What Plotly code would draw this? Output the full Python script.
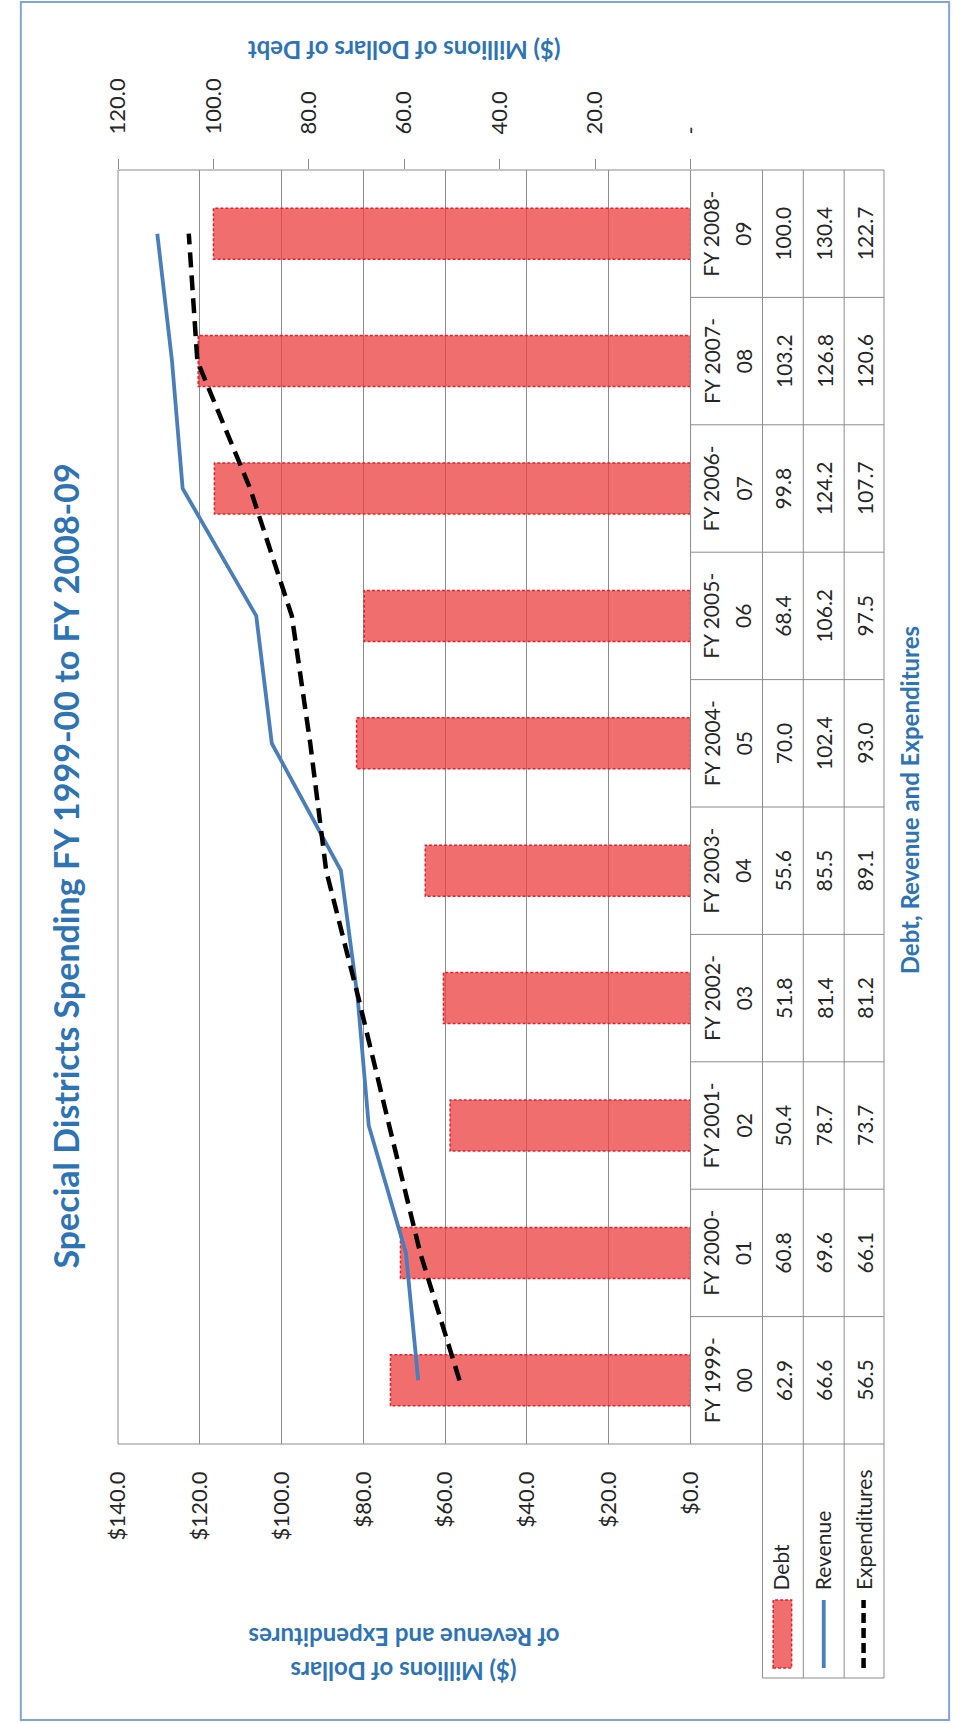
import plotly.graph_objects as go

W, H = 965, 1723

# ---------------- data ----------------
categories = ["FY 1999-00", "FY 2000-01", "FY 2001-02", "FY 2002-03", "FY 2003-04",
              "FY 2004-05", "FY 2005-06", "FY 2006-07", "FY 2007-08", "FY 2008-09"]
debt = [62.9, 60.8, 50.4, 51.8, 55.6, 70.0, 68.4, 99.8, 103.2, 100.0]
revenue = [66.6, 69.6, 78.7, 81.4, 85.5, 102.4, 106.2, 124.2, 126.8, 130.4]
expenditures = [56.5, 66.1, 73.7, 81.2, 89.1, 93.0, 97.5, 107.7, 120.6, 122.7]

dollar_ticks = [0, 20, 40, 60, 80, 100, 120, 140]
dollar_ticktext = ["$0.0", "$20.0", "$40.0", "$60.0", "$80.0", "$100.0", "$120.0", "$140.0"]
debt_ticks = [0, 20, 40, 60, 80, 100, 120]
debt_ticktext = ["-", "20.0", "40.0", "60.0", "80.0", "100.0", "120.0"]

series_names = ["Debt", "Revenue", "Expenditures"]

# ---------------- layout helpers ----------------
def px(x):
    return x / W

def py(y):
    return 1 - y / H

PL, PR, PT, PB = 106, 695, 170, 1444     # plot area (pixels)
C_CAT1, C_CAT2 = 716, 749                # category label lines
C_COLS = [790, 832, 874]                 # table value columns
T_LINES = [769, 811, 853, 894]           # table vertical lines
LEG_BOTTOM = 1678

BLUE = "#2E74B5"
GRID = "#8c8c8c"
TXT = "#262626"
BAR_FILL = "rgba(235,65,65,0.76)"
BAR_EDGE = "#E3202C"
REV_COL = "#4A7EBB"
FONT = "Lato"

idx = list(range(len(categories)))
BAR_HALF = 0.2

fig = go.Figure()

# Debt bars (base axis x = debt axis, on top)
fig.add_trace(go.Bar(
    x=debt, y=idx, orientation="h", width=2 * BAR_HALF,
    marker=dict(color=BAR_FILL, line=dict(width=0)),
    xaxis="x", yaxis="y", hoverinfo="skip"))

# dashed outlines of the bars
ox, oy = [], []
for i, d in zip(idx, debt):
    ox += [0, d, d, 0, 0, None]
    oy += [i - BAR_HALF, i - BAR_HALF, i + BAR_HALF, i + BAR_HALF, i - BAR_HALF, None]
fig.add_trace(go.Scatter(
    x=ox, y=oy, mode="lines",
    line=dict(color=BAR_EDGE, width=1.5, dash="3px,2px"),
    xaxis="x", yaxis="y", hoverinfo="skip"))

# Revenue and Expenditures (overlay $ axis)
fig.add_trace(go.Scatter(
    x=revenue, y=idx, mode="lines",
    line=dict(color=REV_COL, width=3.8),
    xaxis="x2", yaxis="y", hoverinfo="skip"))
fig.add_trace(go.Scatter(
    x=expenditures, y=idx, mode="lines",
    line=dict(color="#000000", width=4.5, dash="15px,8px"),
    xaxis="x2", yaxis="y", hoverinfo="skip"))

tickfont = dict(family=FONT, size=22, color=TXT)

fig.update_layout(
    width=W, height=H, autosize=False,
    margin=dict(l=0, r=0, t=0, b=0),
    paper_bgcolor="white", plot_bgcolor="white",
    showlegend=False,
    xaxis=dict(
        domain=[px(PL), px(PR)], range=[120, 0], side="top", anchor="y",
        tickmode="array", tickvals=debt_ticks, ticktext=debt_ticktext,
        tickangle=-90, ticks="outside", ticklen=10, tickcolor=GRID, tickwidth=1,
        showgrid=False, zeroline=False, showline=False,
        tickfont=tickfont, ticklabelstandoff=20, fixedrange=True),
    xaxis2=dict(
        overlaying="x", range=[140, 0], side="bottom", anchor="y",
        tickmode="array", tickvals=dollar_ticks, ticktext=dollar_ticktext,
        tickangle=-90, ticks="",
        showgrid=True, gridcolor=GRID, gridwidth=1,
        zeroline=False, showline=False,
        tickfont=tickfont, ticklabelstandoff=22, fixedrange=True),
    yaxis=dict(
        domain=[py(PB), py(PT)], range=[-0.5, len(categories) - 0.5],
        showticklabels=False, showgrid=False, zeroline=False, ticks="",
        fixedrange=True),
)

shapes = []
line_style = dict(color=GRID, width=1)

def hline(x0, x1, y):
    shapes.append(dict(type="line", xref="paper", yref="paper",
                       x0=px(x0), x1=px(x1), y0=py(y), y1=py(y), line=line_style))

def vline(x, y0, y1):
    shapes.append(dict(type="line", xref="paper", yref="paper",
                       x0=px(x), x1=px(x), y0=py(y0), y1=py(y1), line=line_style))

# plot/table frame
hline(PL, T_LINES[-1], PT)
hline(PL, T_LINES[-1], PB)
vline(PL, PT, PB)
vline(PR, PT, PB)
for xv in T_LINES:
    vline(xv, PT, LEG_BOTTOM)
hline(T_LINES[0], T_LINES[-1], LEG_BOTTOM)

# row separators between categories in the table
for i in idx[:-1]:
    shapes.append(dict(type="line", xref="paper", yref="y",
                       x0=px(PR), x1=px(T_LINES[-1]), y0=i + 0.5, y1=i + 0.5,
                       line=line_style))

# legend keys
shapes.append(dict(type="rect", xref="paper", yref="paper",
                   x0=px(780), x1=px(799), y0=py(1668), y1=py(1600),
                   fillcolor=BAR_FILL, line=dict(color=BAR_EDGE, width=1.5, dash="3px,2px")))
shapes.append(dict(type="line", xref="paper", yref="paper",
                   x0=px(832), x1=px(832), y0=py(1668), y1=py(1600),
                   line=dict(color=REV_COL, width=3.8)))
shapes.append(dict(type="line", xref="paper", yref="paper",
                   x0=px(873), x1=px(873), y0=py(1668), y1=py(1600),
                   line=dict(color="#000000", width=4.5, dash="10px,5px")))

# outer border
shapes.append(dict(type="rect", xref="paper", yref="paper",
                   x0=px(6), x1=px(961), y0=py(1720), y1=py(2),
                   line=dict(color="#7FA6D9", width=2)))

annotations = []
tfont = dict(family=FONT, size=21, color=TXT)

# table contents
for i, cat in zip(idx, categories):
    annotations.append(dict(x=px(C_CAT1), y=i, xref="paper", yref="y",
                            text=cat[:-2], textangle=-90, showarrow=False, font=tfont,
                            xanchor="center", yanchor="middle"))
    annotations.append(dict(x=px(C_CAT2), y=i, xref="paper", yref="y",
                            text=cat[-2:], textangle=-90, showarrow=False, font=tfont,
                            xanchor="center", yanchor="middle"))
    for xc, series in zip(C_COLS, [debt, revenue, expenditures]):
        annotations.append(dict(x=px(xc), y=i, xref="paper", yref="y",
                                text=f"{series[i]:.1f}", textangle=-90, showarrow=False,
                                font=tfont, xanchor="center", yanchor="middle"))

# legend labels
for xc, name in zip([788, 831, 873], series_names):
    annotations.append(dict(x=px(xc), y=py(1592), xref="paper", yref="paper",
                            text=name, textangle=-90, showarrow=False, font=tfont,
                            xanchor="center", yanchor="bottom"))

# titles
annotations.append(dict(x=px(52), y=py(866), xref="paper", yref="paper",
                        text="<b>Special Districts Spending FY 1999-00 to FY 2008-09</b>",
                        textangle=-90, showarrow=False,
                        font=dict(family=FONT, size=34, color=BLUE),
                        xanchor="center", yanchor="middle"))
annotations.append(dict(x=px(920), y=py(800), xref="paper", yref="paper",
                        text="<b>Debt, Revenue and Expenditures</b>",
                        textangle=-90, showarrow=False,
                        font=dict(family=FONT, size=24, color=BLUE),
                        xanchor="center", yanchor="middle"))
annotations.append(dict(x=px(400), y=py(50), xref="paper", yref="paper",
                        text="<b>($) Millions of Dollars of Debt</b>",
                        textangle=180, showarrow=False,
                        font=dict(family=FONT, size=24, color=BLUE),
                        xanchor="center", yanchor="middle"))
annotations.append(dict(x=px(400), y=py(1672), xref="paper", yref="paper",
                        text="<b>($) Millions of Dollars</b>",
                        textangle=180, showarrow=False,
                        font=dict(family=FONT, size=24, color=BLUE),
                        xanchor="center", yanchor="middle"))
annotations.append(dict(x=px(400), y=py(1638), xref="paper", yref="paper",
                        text="<b>of Revenue and Expenditures</b>",
                        textangle=180, showarrow=False,
                        font=dict(family=FONT, size=24, color=BLUE),
                        xanchor="center", yanchor="middle"))

fig.update_layout(shapes=shapes, annotations=annotations)

fig.write_html("out.html")
